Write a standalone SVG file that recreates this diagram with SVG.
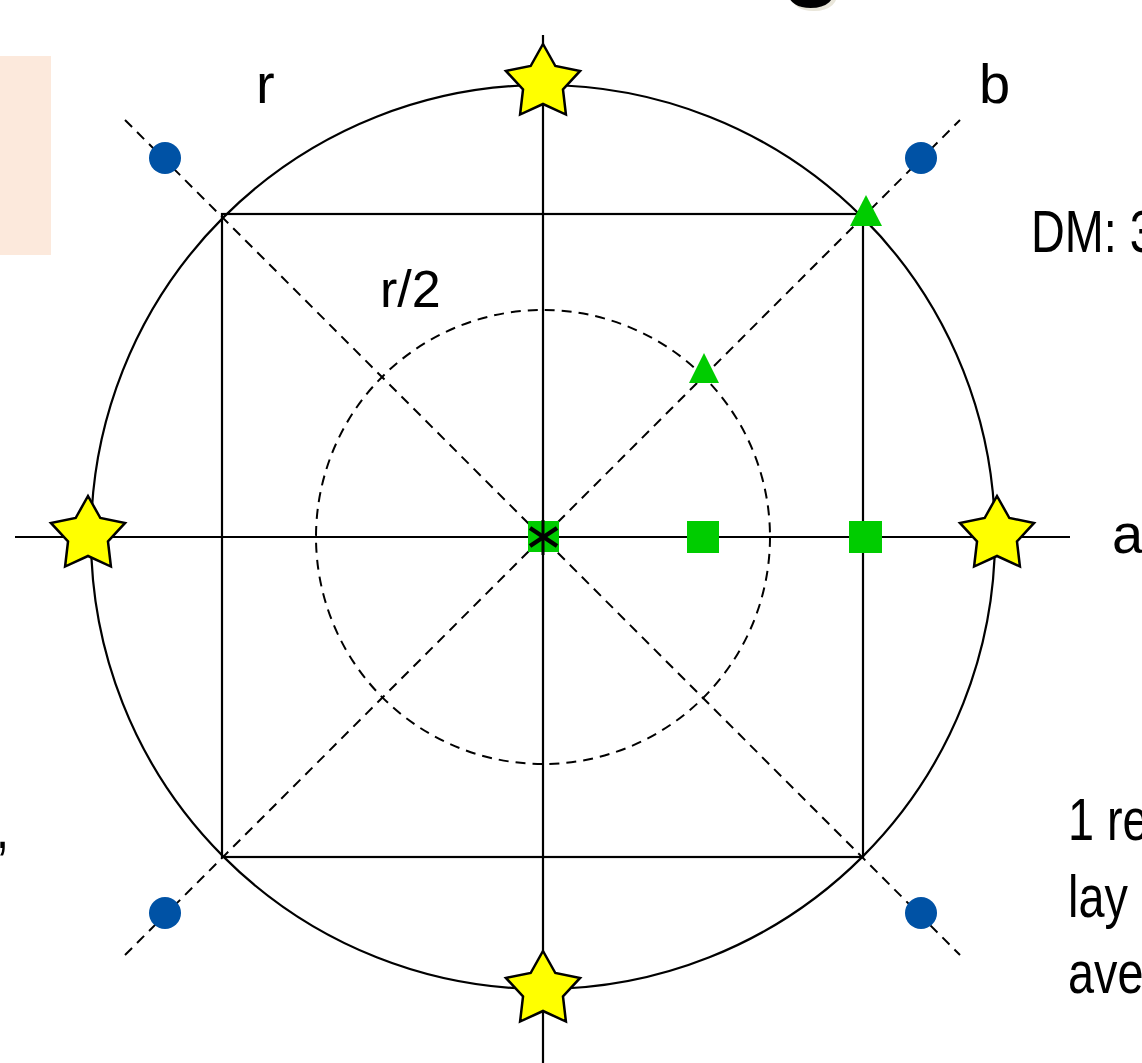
<svg xmlns="http://www.w3.org/2000/svg" width="1142" height="1063" viewBox="0 0 1142 1063">
  <style>
    .ln { stroke: #000; stroke-width: 2.2; fill: none; }
    .dash { stroke: #000; stroke-width: 2; fill: none; stroke-dasharray: 10 7; }
    .lbl { font-family: "Liberation Sans", Arial, sans-serif; font-size: 56px; fill: #000; }
    .lbl2 { font-family: "Liberation Sans", Arial, sans-serif; font-size: 52px; fill: #000; }
    .side { font-family: "Liberation Sans", Arial, sans-serif; font-size: 60px; fill: #000; }
    .star { fill: #ffff00; stroke: #000; stroke-width: 2.5; stroke-linejoin: miter; }
    .dot { fill: #0052a5; }
    .grn { fill: #00cc00; }
  </style>
  <defs>
    <path id="starShape" d="M0,-39 L12.34,-16.99 L37.09,-12.05 L19.97,6.49 L22.92,31.55 L0,21 L-22.92,31.55 L-19.97,6.49 L-37.09,-12.05 L-12.34,-16.99 Z"/>
  </defs>
  <rect width="1142" height="1063" fill="#fff"/>

  <g id="title-fragment">
    <text x="815" y="-10" font-family="Liberation Sans, sans-serif" font-weight="bold" font-size="100" fill="#e9e6da" text-anchor="middle">g</text>
    <text x="812" y="-13" font-family="Liberation Sans, sans-serif" font-weight="bold" font-size="100" fill="#000" text-anchor="middle">g</text>
  </g>

  <g id="side-box">
    <rect x="0" y="56" width="51" height="199" fill="#fce9dc"/>
  </g>

  <g id="connectors">
    <line class="ln" x1="15" y1="537" x2="1070" y2="537"/>
    <line class="ln" x1="543" y1="35" x2="543" y2="1063"/>
    <line class="dash" x1="125" y1="120" x2="960" y2="955"/>
    <line class="dash" x1="125" y1="955" x2="960" y2="120"/>
    <circle class="ln" cx="543" cy="537" r="452"/>
    <circle class="dash" cx="543" cy="537" r="227"/>
    <rect class="ln" x="222" y="214" width="641" height="643"/>
  </g>

  <g id="blue-dots">
    <circle class="dot" cx="165" cy="158" r="16"/>
    <circle class="dot" cx="921" cy="158" r="16"/>
    <circle class="dot" cx="165" cy="913" r="16"/>
    <circle class="dot" cx="921" cy="913" r="16"/>
  </g>

  <g id="stars">
    <use href="#starShape" class="star" x="543" y="83"/>
    <use href="#starShape" class="star" x="88" y="535"/>
    <use href="#starShape" class="star" x="997" y="535"/>
    <use href="#starShape" class="star" x="543" y="990"/>
  </g>

  <g id="green-markers">
    <polygon class="grn" points="866,195 850,226 882,226"/>
    <polygon class="grn" points="704,353 689,383 719,383"/>
    <rect class="grn" x="528" y="521" width="31" height="31"/>
    <rect class="grn" x="687" y="521" width="32" height="32"/>
    <rect class="grn" x="849" y="521" width="33" height="32"/>
  </g>

  <g id="center-mark">
    <line x1="543" y1="520" x2="543" y2="555" stroke="#000" stroke-width="3"/>
    <line x1="530" y1="528" x2="557" y2="546" stroke="#000" stroke-width="4.5"/>
    <line x1="530" y1="546" x2="557" y2="528" stroke="#000" stroke-width="4.5"/>
  </g>

  <g id="labels">
    <text class="lbl" x="256" y="103">r</text>
    <text class="lbl" x="979" y="103">b</text>
    <text class="lbl" x="1112" y="553">a</text>
    <text class="lbl2" x="380" y="307">r/2</text>
  </g>

  <g id="side-text">
    <text class="side" transform="translate(1031,252) scale(0.78,1)">DM: 3</text>
    <text class="side" transform="translate(1068,840) scale(0.78,1)">1 re</text>
    <text class="side" transform="translate(1068,917) scale(0.78,1)">lay</text>
    <text class="side" transform="translate(1068,993) scale(0.78,1)">ave</text>
    <text class="side" transform="translate(-4,848) scale(0.78,1)">,</text>
  </g>
</svg>
